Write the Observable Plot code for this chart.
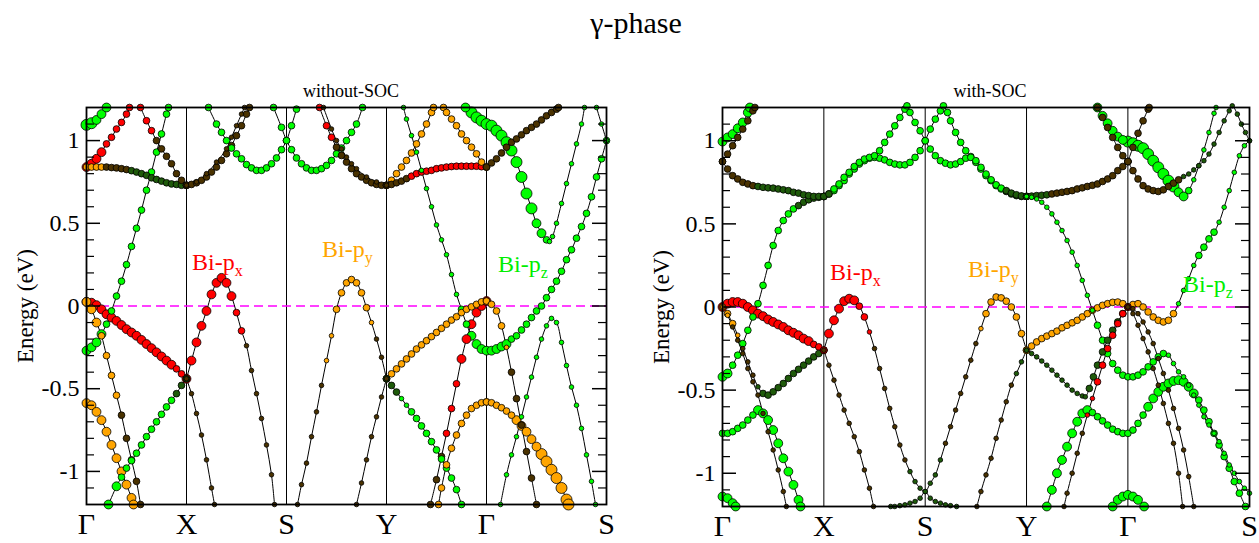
<!DOCTYPE html>
<html>
<head>
<meta charset="utf-8">
<script src="https://cdn.jsdelivr.net/npm/d3@7"></script>
<script src="https://cdn.jsdelivr.net/npm/@observablehq/plot@0.6"></script>
<style>
  html, body { margin: 0; padding: 0; background: #fff; }
  #wrap { position: relative; width: 1259px; height: 543px; overflow: hidden; font-family: 'Liberation Serif', 'Times New Roman', serif; }
  .abs { position: absolute; white-space: nowrap; line-height: 1; }
  .ctr { transform: translateX(-50%); }
  .sub { font-size: 16px; position: relative; top: 6px; }
</style>
</head>
<body>
<div id="wrap"></div>
<script>
// ---------- axis data ----------
const kTicks = [0, 1, 2, 3, 4, 5.2];
const kLabels = ["Γ", "X", "S", "Y", "Γ", "S"];
const yMajor = [-1, -0.5, 0, 0.5, 1];
const yMinor = [-1.1, -0.9, -0.8, -0.7, -0.6, -0.4, -0.3, -0.2, -0.1, 0.1, 0.2, 0.3, 0.4, 0.6, 0.7, 0.8, 0.9, 1.1];
const orbitals = ["x", "y", "z", "m", "n"];   // px, py, pz, mixed (brown), mixed (green)
const orbColors = ["#ff0000", "#ffa500", "#00ff00", "#4a3200", "#1e5a0a"];

// ---------- bands: code string = orbital + weight, then k,E pairs ----------
const bandsNoSOC = [
  ["z3",0,-.27,.05,-.25,.1,-.22,.15,-.17,"z2",.2,-.11,.25,-.03,.3,.06,.35,.15,.4,.25,.45,.36,.5,.47,.55,.58,.6,.7,.65,.81,.7,.93,.75,1.04,.8,1.16,.82,1.2],
  ["x3",0,.025,.05,.02,.1,.005,.15,-.02,.2,-.05,.25,-.07,.3,-.09,.35,-.115,.4,-.14,.45,-.16,.5,-.18,.55,-.205,.6,-.23,.65,-.255,.7,-.28,.75,-.305,.8,-.33,.85,-.355,"x2",.9,-.38,.95,-.41,1,-.44],
  ["y3",0,.025,.05,-.02,.1,-.1,"y2",.15,-.18,.2,-.3,.25,-.42,.3,-.54,"m2",.35,-.66,.4,-.8,.45,-.93,.5,-1.06,.54,-1.2],
  ["y3",0,-.587,.05,-.6,.1,-.64,.15,-.69,.2,-.76,.25,-.84,.3,-.92,.35,-1,.4,-1.08,.45,-1.16,.47,-1.2],
  ["z3",.22,-1.2,.3,-1.09,"z2",.35,-1.035,.4,-.98,.45,-.935,.5,-.89,.55,-.84,.6,-.79,.65,-.745,.7,-.7,.75,-.655,.8,-.61,.85,-.57,"n2",.9,-.53,.95,-.48,1,-.44],
  ["x3",0,.84,.05,.86,.1,.89,.15,.93,"x2",.2,.98,.25,1.02,.3,1.07,.35,1.11,.4,1.16,.43,1.2],
  ["y2",0,.84,.05,.84,.1,.84,.15,.84,"m2",.2,.84,.25,.837,.3,.835,.35,.83,.4,.825,"n2",.45,.818,.5,.81,.55,.8,.6,.79,.65,.775,.7,.765,.75,.755,.8,.745,.85,.738,.9,.735,.95,.73,1,.73],
  ["x2",.54,1.2,.6,1.12,.65,1.06,"m2",.7,1,.75,.95,.8,.905,.85,.86,.9,.8,.95,.76,1,.73],
  ["z4",0,1.095,.05,1.105,"z3",.1,1.125,.15,1.16,.2,1.2],
  ["m2",1,.73,1.05,.735,1.1,.745,1.15,.76,1.2,.78,1.25,.81,1.3,.84,1.35,.88,1.4,.92,1.45,.97,1.5,1.03,1.55,1.09,1.6,1.16,1.63,1.2],
  ["m1",1,.73,1.1,.75,1.2,.8,1.3,.87,1.4,.95,1.45,1.02,1.5,1.09,1.55,1.16,1.58,1.2],
  ["z2",1.22,1.2,1.3,1.1,1.35,1.05,1.4,1,1.45,.955,1.5,.92,1.55,.89,1.6,.855,1.65,.835,1.7,.82,1.75,.82,1.8,.835,1.85,.86,1.9,.895,1.95,.945,2,1,2.05,1.09,2.1,1.19],
  ["z2",1.87,1.2,1.95,1.08,2,1,2.05,.945,2.1,.895,2.15,.86,2.2,.835,2.25,.82,2.3,.82,2.35,.83,2.4,.85,2.45,.88,2.5,.92,2.55,.955,2.6,1,2.65,1.05,2.7,1.1,2.76,1.2],
  ["x3",1,-.44,1.05,-.33,1.1,-.22,1.15,-.12,1.2,-.03,1.25,.07,1.3,.14,1.35,.17,1.4,.14,1.45,.06,"x2",1.5,-.04,1.55,-.15,"m1",1.6,-.24,1.65,-.39,1.7,-.53,1.75,-.68,1.8,-.84,1.85,-1.02,1.88,-1.2],
  ["m1",1,-.44,1.05,-.53,1.1,-.65,1.15,-.78,1.2,-.93,1.25,-1.1,1.28,-1.2],
  ["m1",2.11,-1.2,2.15,-1.08,2.2,-.95,2.25,-.79,2.3,-.64,2.35,-.48,"y1",2.4,-.33,2.45,-.18,"y2",2.5,-.02,2.55,.08,2.6,.14,2.65,.16,2.7,.14,2.75,.08,2.8,-.01,"y1",2.85,-.1,"m1",2.9,-.2,2.95,-.31,"m2",3,-.44],
  ["m1",2.7,-1.2,2.75,-1.07,2.8,-.93,2.85,-.79,2.9,-.67,2.95,-.55,3,-.44],
  ["x2",2.33,1.2,2.4,1.09,2.45,1.02,"m2",2.5,.96,2.55,.91,2.6,.87,2.65,.83,2.7,.8,2.75,.78,2.8,.76,2.85,.745,2.9,.735,2.95,.73,3,.73],
  ["m1",2.37,1.2,2.45,1.07,2.5,1,2.55,.95,2.6,.9,2.65,.86,2.7,.83,2.8,.78,2.9,.75,3,.73],
  ["y2",3,.73,3.05,.76,3.1,.8,3.15,.84,3.2,.88,3.25,.925,3.3,.98,3.35,1.04,3.4,1.1,3.45,1.17,3.47,1.2],
  ["m2",3,.73,3.05,.735,3.1,.745,3.15,.755,3.2,.77,"x2",3.25,.785,3.3,.8,3.35,.81,3.4,.815,3.45,.82,3.5,.83,3.55,.835,3.6,.84,3.65,.843,3.7,.845,3.75,.845,3.8,.845,3.85,.845,3.9,.845,3.95,.842,"y2",4,.84],
  ["y2",3.57,1.2,3.6,1.17,3.65,1.13,3.7,1.09,3.75,1.04,3.8,1,3.85,.96,3.9,.92,3.95,.87,4,.84],
  ["z3",3.79,1.2,"z4",3.85,1.17,3.9,1.14,3.95,1.12,4,1.1,4.05,1.09,4.1,1.06,4.15,1.03,4.2,.99,4.25,.94,4.3,.87,4.35,.78,4.4,.68,4.45,.59,"z3",4.5,.5,4.55,.44,"z2",4.6,.4,"z1",4.63,.39,4.66,.42,4.7,.5,4.75,.62,4.8,.74,4.85,.86,4.9,.98,4.95,1.1,4.98,1.2],
  ["m2",4,.84,4.05,.865,4.1,.89,4.15,.925,4.2,.96,4.25,.99,4.3,1.01,4.35,1.035,4.4,1.06,4.45,1.08,4.5,1.1,4.55,1.125,4.6,1.15,4.65,1.17,4.7,1.19,4.72,1.2],
  ["z1",3.17,1.2,3.2,1.13,3.25,1.03,3.3,.93,3.35,.82,3.4,.71,3.45,.6,3.5,.49,3.55,.4,3.6,.31,3.65,.19,3.7,.07,"z2",3.75,-.02,3.8,-.11,"z3",3.85,-.18,3.9,-.23,3.95,-.26,4,-.27,4.05,-.27,4.1,-.26,4.15,-.245,4.2,-.23,"z2",4.25,-.2,4.3,-.18,4.35,-.145,4.4,-.11,4.45,-.07,4.5,-.03,4.55,0,4.6,.05,4.65,.1,4.7,.15,4.75,.21,4.8,.28,4.85,.34,4.9,.41,4.95,.48,5,.56,5.05,.66,5.1,.78,5.15,.89,5.2,1],
  ["z1",5.1,1.2,5.15,1.1,5.2,1],
  ["y2",3,-.44,3.05,-.41,3.1,-.38,3.15,-.35,3.2,-.32,3.25,-.29,3.3,-.26,3.35,-.235,3.4,-.21,3.45,-.185,3.5,-.16,3.55,-.135,3.6,-.11,3.65,-.085,3.7,-.065,3.75,-.04,3.8,-.02,3.85,-.005,3.9,.01,3.95,.025,4,.03],
  ["y2",4,.03,4.05,.01,4.1,-.03,4.15,-.12,"y1",4.2,-.25,"m2",4.25,-.4,4.3,-.56,4.35,-.72,4.4,-.88,4.45,-1.04,4.5,-1.2],
  ["m2",3.44,-1.2,3.5,-1.05,3.55,-.91,"x2",3.6,-.77,3.65,-.62,3.7,-.47,"x3",3.75,-.32,3.8,-.2,3.85,-.11,3.9,-.04,3.95,0,4,.03],
  ["n2",3,-.44,3.05,-.48,3.1,-.52,"z1",3.15,-.56,3.2,-.6,"z2",3.25,-.64,3.3,-.68,3.35,-.725,3.4,-.77,3.45,-.82,3.5,-.87,3.55,-.925,3.6,-.98,3.65,-1.04,3.7,-1.11,3.75,-1.2],
  ["y2",3.52,-1.2,3.55,-1.1,3.6,-.96,3.65,-.86,3.7,-.78,3.75,-.71,3.8,-.66,3.85,-.62,3.9,-.6,3.95,-.585,4,-.58],
  ["y2",4,-.58,4.05,-.585,4.1,-.6,4.15,-.615,4.2,-.635,4.25,-.66,"y3",4.3,-.69,4.35,-.725,4.4,-.76,4.45,-.805,4.5,-.85,"y4",4.55,-.895,4.6,-.94,4.65,-.99,4.7,-1.04,4.75,-1.1,4.8,-1.17,4.82,-1.2],
  ["z1",4.14,-1.2,4.2,-1.02,4.25,-.9,4.3,-.79,4.35,-.67,4.4,-.55,4.45,-.43,4.5,-.31,4.55,-.2,4.6,-.12,4.65,-.075,4.7,-.1,4.75,-.22,4.8,-.36,4.85,-.49,4.9,-.6,4.95,-.74,5,-.9,5.05,-1.06,5.09,-1.2]
];

const bandsSOC = [
  ["z3",0,-.42,.05,-.4,"z2",.1,-.35,.15,-.29,.2,-.22,.25,-.14,.3,-.06,.35,.02,.4,.13,.45,.25,.5,.37,.55,.46,.6,.52,.65,.56,.7,.59,"n2",.75,.61,.8,.63,.85,.645,.9,.655,.95,.66,1,.665],
  ["x3",0,0,.05,.02,.1,.03,.15,.03,.2,.02,.25,0,.3,-.02,.35,-.04,.4,-.055,.45,-.075,.5,-.09,.55,-.105,.6,-.12,.65,-.14,.7,-.155,.75,-.17,.8,-.19,.85,-.205,"x2",.9,-.225,.95,-.24,1,-.26],
  ["y2",0,0,.05,-.04,.1,-.1,"y1",.15,-.17,"m1",.2,-.25,.25,-.33,.3,-.41,"n1",.35,-.48,"n2",.4,-.52,.45,-.53,.5,-.51,.55,-.485,.6,-.46,.65,-.43,.7,-.4,.75,-.375,.8,-.35,.85,-.325,.9,-.3,.95,-.28,1,-.26],
  ["y1",0,0,.05,-.05,"m1",.1,-.12,.15,-.2,.2,-.28,.25,-.37,.3,-.45,.35,-.53,.4,-.64,.45,-.75,.5,-.86,.55,-.98,.6,-1.11,.63,-1.2],
  ["z2",0,-.76,.05,-.76,.1,-.75,.15,-.73,.2,-.71,.25,-.68,.3,-.65,"z3",.35,-.62,.4,-.64,.45,-.68,.5,-.74,.55,-.82,.6,-.91,.65,-.99,.7,-1.07,.75,-1.16,.77,-1.2],
  ["z3",0,-1.14,.05,-1.15,.1,-1.18,.13,-1.2],
  ["z3",0,.995,.05,1.02,.1,1.04,.15,1.075,.2,1.11,.25,1.17,.27,1.2],
  ["m2",0,.875,.05,.92,.1,.97,.15,1.02,.2,1.07,.25,1.12,.3,1.18,.32,1.2],
  ["m2",0,.875,.05,.83,.1,.79,.15,.77,.2,.75,.25,.74,.3,.73,"n2",.35,.725,.4,.72,.45,.717,.5,.715,.55,.71,.6,.705,.65,.7,.7,.69,.75,.685,.8,.675,.85,.67,.9,.665,.95,.665,1,.665],
  ["n2",1,.665,1.05,.68,"z2",1.1,.7,1.15,.73,1.2,.76,1.25,.8,1.3,.83,1.35,.86,1.4,.88,1.45,.895,1.5,.9,1.55,.895,1.6,.885,1.65,.87,1.7,.86,1.75,.855,1.8,.855,1.85,.87,1.9,.9,1.95,.94,2,1,2.05,1.07,2.1,1.13,2.15,1.18,2.18,1.21,2.22,1.17,2.25,1.12,2.3,1.05,2.35,.99,2.4,.94,2.45,.905,2.5,.87,2.55,.83,2.6,.79,2.65,.76,2.7,.73,2.75,.71,"n2",2.8,.695,2.85,.68,2.9,.67,2.95,.665,3,.665],
  ["n2",1,.665,1.05,.68,"z2",1.1,.71,1.15,.74,1.2,.78,1.25,.81,1.3,.845,1.35,.87,1.4,.89,1.45,.9,1.5,.91,1.55,.94,1.6,.99,1.65,1.04,1.7,1.09,1.75,1.14,1.8,1.19,1.82,1.21,1.85,1.17,1.9,1.11,1.95,1.06,2,1,2.05,.95,2.1,.91,2.15,.88,2.2,.865,2.25,.855,2.3,.86,2.35,.875,2.4,.895,2.45,.9,2.5,.88,2.55,.84,2.6,.8,2.65,.765,2.7,.735,2.75,.715,"n2",2.8,.7,2.85,.685,2.9,.675,2.95,.668,3,.665],
  ["x2",1,-.26,"x3",1.05,-.16,1.1,-.08,1.15,-.01,1.2,.035,1.25,.05,1.3,.04,"x2",1.35,.005,1.4,-.06,"x1",1.45,-.15,"m1",1.5,-.25,1.55,-.37,1.6,-.49,1.65,-.61,1.7,-.72,1.75,-.83,1.8,-.92,"n1",1.85,-.99,1.9,-1.05,1.95,-1.09,2,-1.11,2.05,-1.06,2.1,-1.01,2.15,-.92,"m1",2.2,-.82,2.25,-.72,2.3,-.62,2.35,-.52,2.4,-.42,2.45,-.32,2.5,-.22,"y1",2.55,-.13,"y2",2.6,-.04,2.65,.03,2.7,.06,2.75,.055,2.8,.035,2.85,0,2.9,-.06,2.95,-.16,3,-.26],
  ["m1",1,-.26,1.05,-.35,1.1,-.44,1.15,-.53,1.2,-.62,1.25,-.7,1.3,-.78,1.35,-.87,1.4,-.98,1.45,-1.09,1.49,-1.2],
  ["n1",1.66,-1.2,1.7,-1.2,1.75,-1.195,1.8,-1.19,1.85,-1.18,1.9,-1.17,1.95,-1.15,2,-1.11,2.05,-1.15,2.1,-1.17,2.15,-1.18,2.2,-1.19,2.25,-1.195,2.31,-1.2],
  ["m1",2.51,-1.2,2.55,-1.11,2.6,-1.01,2.65,-.91,2.7,-.79,2.75,-.68,2.8,-.57,2.85,-.47,"n1",2.9,-.4,2.95,-.33,3,-.26],
  ["y2",3,-.26,3.05,-.235,3.1,-.21,3.15,-.19,3.2,-.175,3.25,-.16,3.3,-.145,3.35,-.125,3.4,-.11,3.45,-.095,3.5,-.08,3.55,-.06,3.6,-.04,3.65,-.02,3.7,-.005,3.75,.01,3.8,.02,3.85,.028,3.9,.03,3.95,.02,4,0,4.05,.015,4.1,.02,4.15,0,4.2,-.03,4.25,-.06,4.3,-.08,4.35,-.09,4.4,-.08,4.45,-.04,"z1",4.5,.02,4.55,.1,4.6,.17,4.65,.25,"z2",4.7,.31,4.75,.36,4.8,.41,4.85,.45,"z1",4.9,.51,4.95,.6,5,.7,5.05,.81,5.1,.91,5.15,.97,5.2,1],
  ["z1",3,.665,3.05,.66,3.1,.65,3.15,.63,3.2,.6,3.25,.56,3.3,.51,3.35,.46,3.4,.4,3.45,.33,3.5,.25,3.55,.16,3.6,.07,3.65,-.02,"z2",3.7,-.11,3.75,-.2,3.8,-.28,3.85,-.34,3.9,-.38,3.95,-.41,4,-.42,4.05,-.42,4.1,-.41,4.15,-.39,4.2,-.36,4.25,-.33,4.3,-.3,4.35,-.28,"z1",4.4,-.29,4.45,-.34,4.5,-.39,4.55,-.42,4.6,-.47,4.65,-.53,4.7,-.59,4.75,-.66,4.8,-.71,4.85,-.76,4.9,-.81,4.95,-.88,5,-.95,5.05,-1,5.1,-1.05,5.15,-1.09,5.2,-1.12],
  ["z3",3.2,-1.2,3.25,-1.1,3.3,-1,3.35,-.92,3.4,-.84,3.45,-.76,3.5,-.69,3.55,-.64,3.6,-.62,"z2",3.65,-.635,3.7,-.66,3.75,-.685,3.8,-.71,3.85,-.735,3.9,-.75,3.95,-.76,4,-.76,4.05,-.74,4.1,-.7,4.15,-.65,"z3",4.2,-.6,4.25,-.55,4.3,-.51,4.35,-.48,4.4,-.46,4.45,-.445,4.5,-.44,4.55,-.45,4.6,-.48,4.65,-.52,"z2",4.7,-.56,4.75,-.62,4.8,-.69,4.85,-.76,4.9,-.83,4.95,-.9,5,-.97,5.05,-1.05,5.1,-1.12,5.16,-1.2],
  ["n1",3,-.26,3.05,-.28,3.1,-.3,3.15,-.325,3.2,-.35,3.25,-.38,3.3,-.41,3.35,-.44,3.4,-.47,3.45,-.5,3.5,-.52,3.55,-.535,3.58,-.54,"n2",3.62,-.49,3.66,-.42,3.7,-.35,3.75,-.27,3.8,-.2,3.85,-.14,3.9,-.09,3.95,-.04,4,0],
  ["m1",3.37,-1.2,3.4,-1.12,3.45,-1,3.5,-.88,3.55,-.76,"x1",3.6,-.65,3.65,-.55,"x2",3.7,-.45,3.75,-.35,3.8,-.25,3.85,-.17,3.9,-.1,3.95,-.04,4,0],
  ["m1",4,0,4.05,-.04,4.1,-.11,4.15,-.19,4.2,-.27,4.25,-.37,4.3,-.47,4.35,-.58,4.4,-.7,4.45,-.82,4.5,-1,4.54,-1.2],
  ["m1",4,0,4.05,-.01,4.1,-.04,4.15,-.09,4.2,-.15,4.25,-.22,4.3,-.31,4.35,-.4,4.4,-.5,4.45,-.61,4.5,-.73,4.55,-.86,4.6,-1.02,4.65,-1.2],
  ["z3",3.85,-1.2,3.9,-1.16,3.95,-1.14,4,-1.13,4.05,-1.14,4.1,-1.16,4.16,-1.2],
  ["n2",3,.665,3.05,.667,3.1,.67,3.15,.672,3.2,.675,"m2",3.25,.68,3.3,.685,3.35,.69,3.4,.695,3.45,.7,3.5,.71,3.55,.717,3.6,.725,3.65,.732,3.7,.74,3.75,.755,3.8,.77,3.85,.79,3.9,.82,3.95,.845,4,.875],
  ["z3",3.7,1.2,3.75,1.15,3.8,1.105,3.85,1.06,3.9,1.025,3.95,1.005,"z4",4,.995,4.05,.985,4.1,.97,4.15,.955,4.2,.92,4.25,.88,4.3,.84,4.35,.8,4.4,.76,4.45,.725,"z3",4.5,.69,4.55,.665,"z2",4.6,.7,"z1",4.65,.765,4.7,.85,4.75,.945,4.8,1.05,4.85,1.165,4.87,1.2],
  ["m2",3.7,1.2,3.75,1.14,3.8,1.08,3.85,1.02,3.9,.96,3.95,.91,4,.875],
  ["m2",4,.875,4.05,.96,4.1,1.045,4.15,1.12,4.2,1.19,4.21,1.2],
  ["m2",4,.875,4.05,.82,4.1,.77,4.15,.73,4.2,.71,4.25,.7,4.3,.695,4.35,.705,4.4,.725,4.45,.745,4.5,.765,"n1",4.55,.785,4.6,.8,4.65,.825,4.7,.85,4.75,.88,4.8,.92,4.85,.98,4.9,1.05,4.95,1.12,5,1.18,5.03,1.21,5.08,1.16,5.12,1.1,5.16,1.05,5.2,1]
];

// ---------- helpers ----------
function toRows(bands) {
  const rows = [];
  bands.forEach((b, i) => {
    let code = "m1";
    for (let j = 0; j < b.length; ) {
      if (typeof b[j] === "string") { code = b[j]; j++; continue; }
      rows.push({band: i, k: b[j], E: b[j + 1], orb: code[0], w: +code[1]});
      j += 2;
    }
  });
  return rows;
}

function panel(bands, o) {
  const rows = toRows(bands);
  const inner = o.width - o.ml - o.mr;
  const ppu = inner / 5.2;
  const maj = 14 / ppu, mnr = 8 / ppu;
  const tickRows = kTicks.map((k, i) => ({k, label: kLabels[i]}));
  return Plot.plot({
    width: o.width, height: 543,
    marginTop: o.mt, marginBottom: o.mb, marginLeft: o.ml, marginRight: o.mr,
    style: {fontFamily: "'Liberation Serif', 'Times New Roman', serif", background: "transparent", overflow: "visible"},
    x: {domain: [0, 5.2], axis: null},
    y: {domain: [-1.2, 1.2], axis: null},
    color: {type: "ordinal", domain: orbitals, range: orbColors},
    r: {type: "linear", domain: [1, 4], range: [2.3, 5.5]},
    marks: [
      Plot.ruleX(kTicks.slice(1, -1), {stroke: "black", strokeWidth: 1}),
      Plot.ruleY([0], {stroke: "#ff00ff", strokeWidth: 1.5, strokeDasharray: "9,5"}),
      Plot.line(rows, {x: "k", y: "E", z: "band", curve: "catmull-rom", stroke: "black", strokeWidth: 1}),
      Plot.dot(rows, {x: "k", y: "E", r: "w", fill: "orb", stroke: "black", strokeWidth: 0.8}),
      Plot.ruleY(yMajor, {x1: 0, x2: maj, stroke: "black", strokeWidth: 1.5}),
      Plot.ruleY(yMajor, {x1: 5.2 - maj, x2: 5.2, stroke: "black", strokeWidth: 1.5}),
      Plot.ruleY(yMinor, {x1: 0, x2: mnr, stroke: "black", strokeWidth: 1.2}),
      Plot.ruleY(yMinor, {x1: 5.2 - mnr, x2: 5.2, stroke: "black", strokeWidth: 1.2}),
      Plot.frame({stroke: "black", strokeWidth: 1.8}),
      Plot.text(yMajor, {x: 0, y: d => d, text: d => String(d), textAnchor: "end", dx: -7, fontSize: 24, fill: "black"}),
      Plot.text(tickRows, {x: "k", y: -1.2, text: "label", dy: 20, lineAnchor: "middle", fontSize: 30, fill: "black"}),
      Plot.text(["Energy (eV)"], {frameAnchor: "left", rotate: -90, dx: o.ylabDx, textAnchor: "middle", lineAnchor: "middle", fontSize: 23, fill: "black"})
    ]
  });
}

const wrap = document.getElementById("wrap");
const p1 = panel(bandsNoSOC, {width: 620, ml: 86, mr: 14, mt: 107, mb: 39, ylabDx: -61});
p1.style.position = "absolute"; p1.style.left = "0px"; p1.style.top = "0px";
wrap.appendChild(p1);
const p2 = panel(bandsSOC, {width: 629, ml: 92, mr: 10, mt: 107, mb: 37, ylabDx: -61});
p2.style.position = "absolute"; p2.style.left = "630px"; p2.style.top = "0px";
wrap.appendChild(p2);

// ---------- text overlays ----------
function addText(html, left, top, size, color, center) {
  const d = document.createElement("div");
  d.className = "abs" + (center ? " ctr" : "");
  d.style.left = left + "px"; d.style.top = top + "px";
  d.style.fontSize = size + "px"; d.style.color = color;
  d.innerHTML = html;
  wrap.appendChild(d);
}
addText("γ-phase", 636, 8, 30, "#000", true);
addText("without-SOC", 351, 82, 18, "#000", true);
addText("with-SOC", 990, 82, 18, "#000", true);
addText('Bi-p<span class="sub">x</span>', 192, 250, 24, "#ff0000");
addText('Bi-p<span class="sub">y</span>', 322, 237, 24, "#ffa500");
addText('Bi-p<span class="sub">z</span>', 498, 252, 24, "#00ee00");
addText('Bi-p<span class="sub">x</span>', 830, 260, 24, "#ff0000");
addText('Bi-p<span class="sub">y</span>', 968, 257, 24, "#ffa500");
addText('Bi-p<span class="sub">z</span>', 1183, 272, 24, "#00ee00");
</script>
</body>
</html>
